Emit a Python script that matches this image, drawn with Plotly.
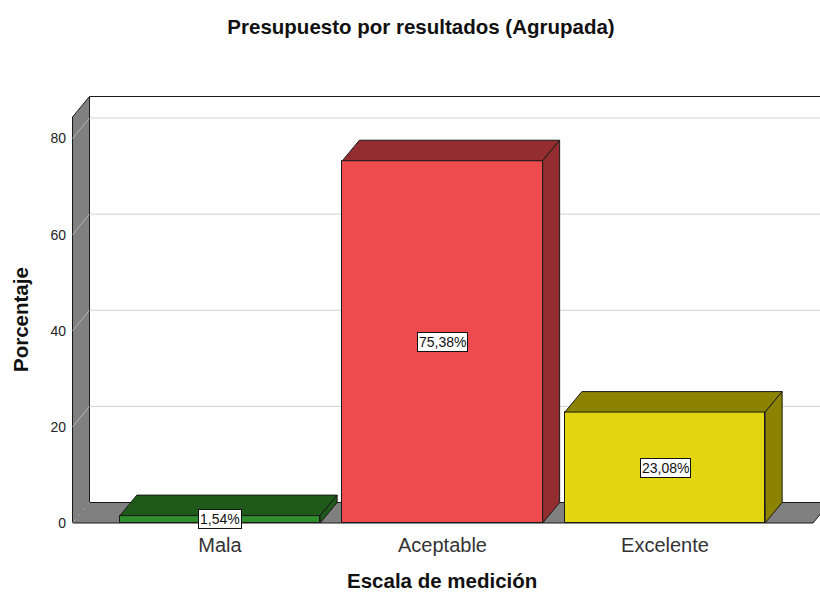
import plotly.graph_objects as go

# ---- data ----
categories = ["Mala", "Aceptable", "Excelente"]
percentages = [1.54, 75.38, 23.08]
y_ticks = [0, 20, 40, 60, 80]

front_colors = ["#2f8f2c", "#ee4b4e", "#e2d60f"]
dark_colors = ["#1f5a1b", "#932d30", "#8c8300"]

title_text = "Presupuesto por resultados (Agrupada)"
x_title = "Escala de medición"
y_title = "Porcentaje"

# ---- geometry (styling) ----
W, H = 820, 593
plot_l, plot_r, plot_t, plot_b = 70, 820, 95, 525   # px
ML, MR, MT, MB = plot_l, W - plot_r, plot_t, H - plot_b
px_x = 222.5          # px per category
px_y = 4.806          # px per percent unit
x0_px, y0_px = 220, 523   # px of category 0 / value 0
x_range = [(plot_l - x0_px) / px_x, (plot_r - x0_px) / px_x]
y_range = [(y0_px - plot_b) / px_y, (y0_px - plot_t) / px_y]

DX = 17 / px_x        # depth offset in x units
DY = 20.5 / px_y      # depth offset in y units
BW = 0.9              # bar width
XL = (72.5 - x0_px) / px_x      # left wall front x
XR = (813 - x0_px) / px_x       # floor front right x
WT = (y0_px - 117) / px_y       # wall top (front)
XRB = x_range[1] + 0.2

wall_grey = "#808080"
edge = "#1a1a1a"
FONT = "Arial, Liberation Sans"

fig = go.Figure()
shapes = []

def poly(pts):
    return "M " + " L ".join(f"{x},{y}" for x, y in pts) + " Z"

# back gridlines
for t in y_ticks[1:]:
    shapes.append(dict(type="line", xref="x", yref="y", layer="below",
                       x0=XL + DX, y0=t + DY, x1=XRB, y1=t + DY,
                       line=dict(color="#d2d2d2", width=1)))
# back wall top edge
shapes.append(dict(type="line", xref="x", yref="y", layer="below",
                   x0=XL + DX, y0=WT + DY, x1=XRB, y1=WT + DY,
                   line=dict(color=edge, width=1)))
# left wall
shapes.append(dict(type="path", xref="x", yref="y", layer="below",
                   path=poly([(XL, 0), (XL, WT), (XL + DX, WT + DY), (XL + DX, DY)]),
                   fillcolor=wall_grey, line=dict(color=edge, width=1)))
# floor
shapes.append(dict(type="path", xref="x", yref="y", layer="below",
                   path=poly([(XL, 0), (XR, 0), (XR + DX, DY), (XL + DX, DY)]),
                   fillcolor=wall_grey, line=dict(color=edge, width=1)))
# gridlines on left wall
for t in y_ticks:
    shapes.append(dict(type="line", xref="x", yref="y", layer="below",
                       x0=XL, y0=t, x1=XL + DX, y1=t + DY,
                       line=dict(color="#b4b4b4", width=1)))

# bars (front faces)
xs = list(range(len(categories)))
fig.add_trace(go.Bar(x=xs, y=percentages, width=BW,
                     marker=dict(color=front_colors, line=dict(color=edge, width=1)),
                     hoverinfo="skip", showlegend=False))

# top & side faces
for i, v in enumerate(percentages):
    xl, xr = i - BW / 2, i + BW / 2
    top = [(xl, v), (xl + DX, v + DY), (xr + DX, v + DY), (xr, v), (xl, v)]
    side = [(xr, 0), (xr, v), (xr + DX, v + DY), (xr + DX, DY), (xr, 0)]
    for pts in (top, side):
        fig.add_trace(go.Scatter(x=[p[0] for p in pts], y=[p[1] for p in pts],
                                 mode="lines", fill="toself", fillcolor=dark_colors[i],
                                 line=dict(color=edge, width=1),
                                 hoverinfo="skip", showlegend=False))

annotations = []
for i, v in enumerate(percentages):
    annotations.append(dict(x=i, y=v / 2, xref="x", yref="y", showarrow=False,
                            text=f"{v:.2f}".replace(".", ",") + "%",
                            font=dict(family=FONT, size=14, color="#111"),
                            bgcolor="white", bordercolor="#111", borderwidth=1, borderpad=1))

pw, ph = plot_r - plot_l, plot_b - plot_t
annotations.append(dict(text=y_title, textangle=-90, showarrow=False,
                        xref="paper", yref="paper",
                        x=(20 - plot_l) / pw, y=(plot_b - 320) / ph,
                        xanchor="center", yanchor="middle",
                        font=dict(family=FONT, size=20.5, color="#111", weight="bold")))
annotations.append(dict(text=x_title, showarrow=False,
                        xref="paper", yref="paper",
                        x=(442 - plot_l) / pw, y=(plot_b - 580) / ph,
                        xanchor="center", yanchor="middle",
                        font=dict(family=FONT, size=20.5, color="#111", weight="bold")))

fig.update_layout(
    width=W, height=H,
    margin=dict(l=ML, r=MR, t=MT, b=MB, pad=0),
    paper_bgcolor="white", plot_bgcolor="white",
    title=dict(text=title_text, xref="container", yref="container",
               x=421 / W, y=1 - 27 / H, xanchor="center", yanchor="middle",
               font=dict(family=FONT, size=20.5, color="#111", weight="bold")),
    shapes=shapes, annotations=annotations,
    xaxis=dict(range=x_range, tickvals=xs, ticktext=categories, showgrid=False,
               zeroline=False, showline=False, ticks="", ticklabelstandoff=6,
               tickfont=dict(family=FONT, size=20, color="#333")),
    yaxis=dict(range=y_range, tickvals=y_ticks, showgrid=False, zeroline=False,
               showline=False, ticks="", ticklabelstandoff=3,
               tickfont=dict(family=FONT, size=14, color="#222")),
    bargap=0,
)

fig.write_html("out.html", config={"displayModeBar": False},
               post_script="document.body.style.margin='0';document.body.style.overflow='hidden';")
